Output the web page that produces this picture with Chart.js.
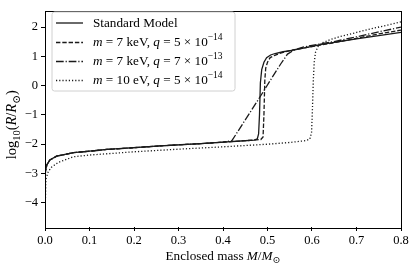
<!DOCTYPE html>
<html>
<head>
<meta charset="utf-8">
<script src="https://cdn.jsdelivr.net/npm/chart.js@4"></script>
<style>
  html, body { margin: 0; padding: 0; background: #fff; }
  #wrap { width: 415px; height: 268px; position: relative; }
</style>
</head>
<body>
<div id="wrap"><canvas id="c"></canvas></div>
<script>
// ---- data ----
const xTicks = [0, 0.1, 0.2, 0.3, 0.4, 0.5, 0.6, 0.7, 0.8];
const yTicks = [-4, -3, -2, -1, 0, 1, 2];

const smX = [0, 0.0003, 0.001, 0.004, 0.011, 0.026, 0.064, 0.1, 0.139, 0.2, 0.258, 0.3, 0.35, 0.4, 0.44, 0.47, 0.477, 0.48, 0.482, 0.484, 0.487, 0.492, 0.498, 0.507, 0.517, 0.535, 0.551, 0.573, 0.6, 0.625, 0.7, 0.75, 0.8];
const smY = [-4.5, -3.2, -2.95, -2.71, -2.54, -2.41, -2.29, -2.24, -2.18, -2.12, -2.06, -2.02, -1.98, -1.93, -1.89, -1.86, -1.82, -1.65, -1.0, 0.1, 0.55, 0.8, 0.96, 1.05, 1.1, 1.16, 1.2, 1.26, 1.34, 1.42, 1.6, 1.71, 1.82];

const aX = [0, 0.0003, 0.001, 0.004, 0.011, 0.026, 0.064, 0.1, 0.139, 0.2, 0.258, 0.3, 0.35, 0.4, 0.44, 0.47, 0.485, 0.49, 0.492, 0.494, 0.496, 0.5, 0.506, 0.515, 0.525, 0.54, 0.56, 0.6, 0.65, 0.7, 0.75, 0.8];
const aY = [-4.5, -3.2, -2.95, -2.71, -2.54, -2.41, -2.29, -2.24, -2.18, -2.12, -2.06, -2.02, -1.98, -1.93, -1.89, -1.86, -1.84, -1.75, -1.0, 0.2, 0.6, 0.8, 0.96, 1.03, 1.09, 1.16, 1.23, 1.34, 1.47, 1.62, 1.77, 1.9];

const bX = [0, 0.0003, 0.001, 0.004, 0.011, 0.026, 0.064, 0.1, 0.139, 0.2, 0.258, 0.3, 0.35, 0.4, 0.42, 0.45, 0.48, 0.51, 0.53, 0.545, 0.56, 0.58, 0.6, 0.65, 0.7, 0.75, 0.8];
const bY = [-4.5, -3.2, -2.95, -2.71, -2.54, -2.41, -2.29, -2.24, -2.18, -2.12, -2.06, -2.02, -1.98, -1.93, -1.88, -1.17, -0.46, 0.27, 0.75, 1.08, 1.22, 1.32, 1.38, 1.51, 1.67, 1.84, 2.0];

const cX = [0, 0.002, 0.0075, 0.015, 0.03, 0.064, 0.1, 0.2, 0.3, 0.4, 0.5, 0.55, 0.585, 0.595, 0.599, 0.601, 0.603, 0.605, 0.608, 0.614, 0.622, 0.64, 0.663, 0.7, 0.737, 0.77, 0.8];
const cY = [-4.5, -3.2, -2.93, -2.78, -2.62, -2.43, -2.37, -2.26, -2.17, -2.09, -2.0, -1.94, -1.88, -1.83, -1.6, -0.8, 0.2, 0.8, 1.15, 1.35, 1.46, 1.57, 1.68, 1.82, 1.96, 2.07, 2.18];

const pts = (xs, ys) => xs.map((x, i) => ({ x: x, y: ys[i] }));

const LW = 1.3;
const styles = [
  { dash: [] },
  { dash: [4.4, 1.9] },
  { dash: [7.7, 1.9, 1.2, 1.9] },
  { dash: [1.2, 2.0] }
];

const SERIF = "'Liberation Serif', 'DejaVu Serif', serif";

function drawRich(ctx, x, y, parts, size) {
  let cx = x;
  for (const p of parts) {
    const s = p.sup || p.sub ? size * 0.72 : size;
    ctx.font = (p.it ? 'italic ' : '') + s + 'px ' + SERIF;
    const dy = p.sup ? -size * 0.4 : (p.sub ? size * 0.25 : 0);
    ctx.fillText(p.t, cx, y + dy);
    cx += ctx.measureText(p.t).width;
  }
  return cx - x;
}
function richWidth(ctx, parts, size) {
  let w = 0;
  for (const p of parts) {
    const s = p.sup || p.sub ? size * 0.72 : size;
    ctx.font = (p.it ? 'italic ' : '') + s + 'px ' + SERIF;
    w += ctx.measureText(p.t).width;
  }
  return w;
}

const legendLabels = [
  [{ t: 'Standard Model' }],
  [{ t: 'm', it: 1 }, { t: ' = 7 keV, ' }, { t: 'q', it: 1 }, { t: ' = 5 × 10' }, { t: '−14', sup: 1 }],
  [{ t: 'm', it: 1 }, { t: ' = 7 keV, ' }, { t: 'q', it: 1 }, { t: ' = 7 × 10' }, { t: '−13', sup: 1 }],
  [{ t: 'm', it: 1 }, { t: ' = 10 eV, ' }, { t: 'q', it: 1 }, { t: ' = 5 × 10' }, { t: '−14', sup: 1 }]
];

const decor = {
  id: 'decor',
  afterDatasetsDraw(chart) {
    const ctx = chart.ctx;
    const a = chart.chartArea;
    ctx.save();
    ctx.strokeStyle = '#000';
    ctx.lineWidth = 1;
    ctx.setLineDash([]);
    ctx.strokeRect(Math.round(a.left) + 0.5, Math.round(a.top) + 0.5, Math.round(a.right - a.left), Math.round(a.bottom - a.top));

    const bx = 52, by = 12, bw = 183, bh = 79, r = 2.5;
    ctx.beginPath();
    ctx.moveTo(bx + r, by);
    ctx.lineTo(bx + bw - r, by);
    ctx.arcTo(bx + bw, by, bx + bw, by + r, r);
    ctx.lineTo(bx + bw, by + bh - r);
    ctx.arcTo(bx + bw, by + bh, bx + bw - r, by + bh, r);
    ctx.lineTo(bx + r, by + bh);
    ctx.arcTo(bx, by + bh, bx, by + bh - r, r);
    ctx.lineTo(bx, by + r);
    ctx.arcTo(bx, by, bx + r, by, r);
    ctx.closePath();
    ctx.fillStyle = 'rgba(255,255,255,0.8)';
    ctx.fill();
    ctx.strokeStyle = '#d0d0d0';
    ctx.lineWidth = 1;
    ctx.stroke();

    const rows = [23, 42.5, 61.5, 80.5];
    ctx.textBaseline = 'middle';
    ctx.textAlign = 'left';
    ctx.fillStyle = '#000';
    for (let i = 0; i < 4; i++) {
      ctx.beginPath();
      ctx.setLineDash(styles[i].dash);
      ctx.strokeStyle = '#1a1a1a';
      ctx.lineWidth = LW;
      ctx.moveTo(56, rows[i]);
      ctx.lineTo(83, rows[i]);
      ctx.stroke();
      ctx.setLineDash([]);
      drawRich(ctx, 93, rows[i] + 0.5, legendLabels[i], 13.2);
    }

    const xt = [{ t: 'Enclosed mass ' }, { t: 'M', it: 1 }, { t: '/' }, { t: 'M', it: 1 }, { t: '⊙', sub: 1 }];
    const xs = 13.2;
    const xw = richWidth(ctx, xt, xs);
    ctx.textBaseline = 'alphabetic';
    drawRich(ctx, (a.left + a.right) / 2 - xw / 2, 260, xt, xs);

    const yt = [{ t: 'log' }, { t: '10', sub: 1 }, { t: '(' }, { t: 'R', it: 1 }, { t: '/' }, { t: 'R', it: 1 }, { t: '⊙', sub: 1 }, { t: ')' }];
    const ys = 14.5;
    const yw = richWidth(ctx, yt, ys);
    ctx.translate(16, (a.top + a.bottom) / 2 + 6);
    ctx.rotate(-Math.PI / 2);
    drawRich(ctx, -yw / 2, 0, yt, ys);
    ctx.restore();
  }
};

const tickFont = { family: SERIF, size: 12.5 };

new Chart(document.getElementById('c'), {
  type: 'scatter',
  data: {
    datasets: [
      { data: pts(smX, smY) },
      { data: pts(aX, aY) },
      { data: pts(bX, bY) },
      { data: pts(cX, cY) }
    ].map((d, i) => Object.assign(d, {
      showLine: true,
      borderColor: '#1a1a1a',
      borderWidth: LW,
      borderDash: styles[i].dash,
      pointRadius: 0,
      tension: 0,
      fill: false
    }))
  },
  options: {
    responsive: true,
    maintainAspectRatio: false,
    animation: false,
    layout: { padding: { top: 5, right: 14, left: 0, bottom: 0 } },
    plugins: { legend: { display: false }, tooltip: { enabled: false } },
    scales: {
      x: {
        type: 'linear', min: 0, max: 0.8,
        afterBuildTicks: s => { s.ticks = xTicks.map(v => ({ value: v })); },
        afterFit: s => { s.height = 41; },
        grid: { drawOnChartArea: false, drawTicks: true, tickLength: 4, color: '#000', tickColor: '#000' },
        border: { display: false },
        ticks: { color: '#000', font: tickFont, padding: 2, maxRotation: 0, autoSkip: false, callback: v => v.toFixed(1) }
      },
      y: {
        type: 'linear', min: -4.83, max: 2.57,
        afterBuildTicks: s => { s.ticks = yTicks.map(v => ({ value: v })); },
        afterFit: s => { s.width = 45; },
        grid: { drawOnChartArea: false, drawTicks: true, tickLength: 4, color: '#000', tickColor: '#000' },
        border: { display: false },
        ticks: { color: '#000', font: tickFont, padding: 3, autoSkip: false, callback: v => String(v).replace('-', '−') }
      }
    }
  },
  plugins: [decor]
});
</script>
</body>
</html>
